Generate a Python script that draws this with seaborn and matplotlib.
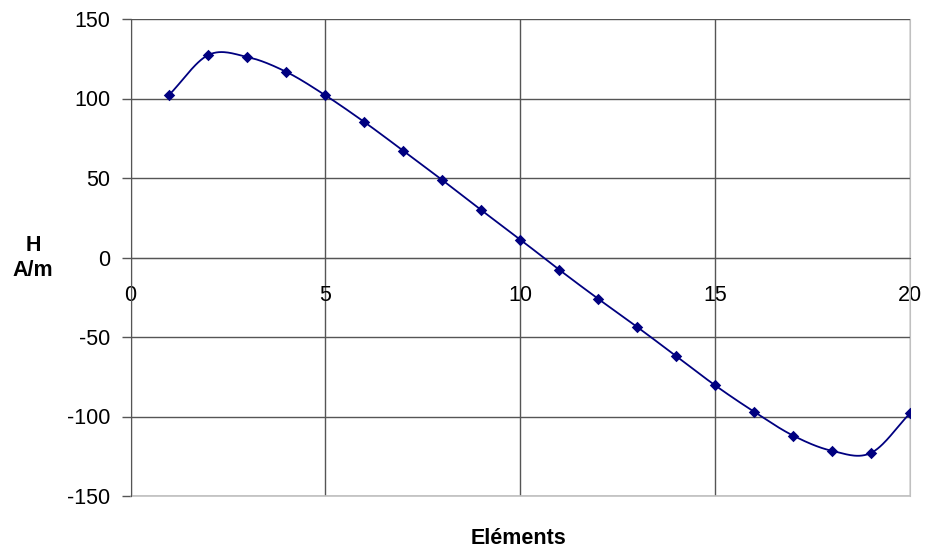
import numpy as np
import pandas as pd
import matplotlib
matplotlib.use("Agg")
import matplotlib.pyplot as plt
import seaborn as sns

elements = [1, 2, 3, 4, 5, 6, 7, 8, 9, 10, 11, 12, 13, 14, 15, 16, 17, 18, 19, 20]
h_values = [102.5, 127.4, 126.1, 116.7, 102.0, 85.2, 67.1, 48.7, 29.8, 11.3,
            -7.7, -26.0, -43.7, -62.0, -80.4, -97.0, -112.0, -121.6, -122.9, -98.0]
x_ticks = [0, 5, 10, 15, 20]
y_ticks = [-150, -100, -50, 0, 50, 100, 150]

sns.set_style("white")
plt.rcParams['font.family'] = ['Liberation Sans', 'DejaVu Sans']
plt.rcParams['text.color'] = 'black'
plt.rcParams['xtick.color'] = 'black'
plt.rcParams['ytick.color'] = 'black'

def catmull_rom(x, y, n=30):
    x = np.asarray(x, float); y = np.asarray(y, float)
    px = np.concatenate([[2 * x[0] - x[1]], x, [2 * x[-1] - x[-2]]])
    py = np.concatenate([[2 * y[0] - y[1]], y, [2 * y[-1] - y[-2]]])
    xs, ys = [], []
    t = np.linspace(0, 1, n, endpoint=False)
    for i in range(1, len(px) - 2):
        for arr, out in ((px, xs), (py, ys)):
            p0, p1, p2, p3 = arr[i - 1], arr[i], arr[i + 1], arr[i + 2]
            out.extend(0.5 * ((2 * p1) + (-p0 + p2) * t
                              + (2 * p0 - 5 * p1 + 4 * p2 - p3) * t ** 2
                              + (-p0 + 3 * p1 - 3 * p2 + p3) * t ** 3))
    xs.append(x[-1]); ys.append(y[-1])
    return np.array(xs), np.array(ys)

sx, sy = catmull_rom(elements, h_values)
smooth = pd.DataFrame({"x": sx, "y": sy})
pts = pd.DataFrame({"x": elements, "y": h_values})

fig = plt.figure(figsize=(9.25, 5.5), dpi=100)
ax = fig.add_axes([130.5 / 925, 1 - 496 / 550, 779.5 / 925, 477 / 550])

navy = "#000080"
sns.lineplot(data=smooth, x="x", y="y", ax=ax, color=navy, linewidth=1.3, sort=False, zorder=3)
sns.scatterplot(data=pts, x="x", y="y", ax=ax, color=navy, marker="D", s=34,
                edgecolor=navy, linewidth=0, zorder=4)

ax.set_xlim(0, 20)
ax.set_ylim(-150, 150)
ax.set_xticks(x_ticks)
ax.set_yticks(y_ticks)
ax.set_xticklabels([str(v) for v in x_ticks])
ax.set_yticklabels([str(v) for v in y_ticks])

grid_c = "#555555"
ax.grid(True, color=grid_c, linewidth=1)
ax.set_axisbelow(True)

ax.spines['bottom'].set_position(('data', 0))
ax.spines['bottom'].set_color(grid_c)
ax.spines['left'].set_color("#555555")
ax.spines['top'].set_visible(False)
ax.spines['right'].set_color("#c0c0c0")
ax.spines['right'].set_visible(True)
ax.axhline(-150, color="#c0c0c0", linewidth=1.2, clip_on=False, zorder=2)

ax.tick_params(axis='y', direction='out', length=6.5, width=1, color="#555555",
               pad=8, labelsize=15.5, left=True, labelcolor='black')
ax.tick_params(axis='x', length=0, pad=20, labelsize=15.5, bottom=True,
               labelcolor='black')

ax.set_xlabel("")
ax.set_ylabel("")
fig.text(518 / 925, 1 - 538 / 550, "Eléments", ha="center", va="center",
         fontsize=15.5, fontweight="bold", color="black")
fig.text(33 / 925, 1 - 258 / 550, "H\nA/m", ha="center", va="center",
         fontsize=15.5, fontweight="bold", linespacing=1.3, color="black")

fig.savefig("out.png", dpi=100)
